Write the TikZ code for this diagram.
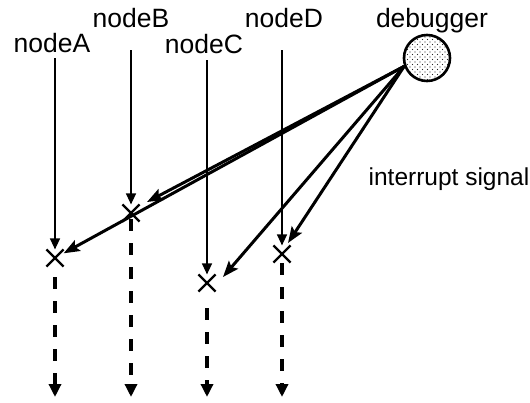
\documentclass[tikz,border=0pt]{standalone}
\usepackage{fontspec}
\setmainfont{Liberation Sans}
\usetikzlibrary{arrows.meta, shapes.misc, patterns}
\pgfdeclarepatternformonly{dbgdots}{\pgfpoint{-1pt}{-1pt}}{\pgfpoint{4pt}{4pt}}{\pgfpoint{5pt}{5pt}}{%
    \pgfpathcircle{\pgfpoint{0pt}{0pt}}{0.6pt}%
    \pgfpathcircle{\pgfpoint{2.5pt}{2.5pt}}{0.6pt}%
    \pgfusepath{fill}}

\begin{document}
\begin{tikzpicture}[x=1pt, y=-1pt,
        font=\fontsize{26.5}{30}\selectfont,
        lbl/.style={anchor=base, inner sep=0pt},
        crs/.style={cross out, draw, line width=2.2pt, minimum size=15pt, inner sep=0pt},
        tl/.style={-{Triangle[length=11pt, width=10pt]}, line width=1.4pt},
        sig/.style={-{Stealth[length=16pt, width=12pt, inset=3pt]}, line width=3pt},
        dl/.style={-{Triangle[length=13pt, width=12pt]}, line width=3.6pt, dash pattern=on 12pt off 12pt}
    ]
    \useasboundingbox (0,0) rectangle (530,402);

    % labels
    \node[lbl] (labA) at (52,52)  {nodeA};
    \node[lbl] (labB) at (131,27) {nodeB};
    \node[lbl] (labC) at (204,53) {nodeC};
    \node[lbl] (labD) at (284,27) {nodeD};
    \node[lbl] (labDbg) at (432,27) {debugger};
    \node[lbl, font=\fontsize{24.5}{30}\selectfont] (labSig) at (449,185) {interrupt signal};

    % debugger
    \node[circle, draw, line width=2.6pt, minimum size=46pt, inner sep=0pt,
        pattern=dbgdots, pattern color=black!85] (dbg) at (427,58) {};

    % breakpoints
    \node[crs] (xA) at (55,258)  {};
    \node[crs] (xB) at (131,213) {};
    \node[crs] (xC) at (207,283) {};
    \node[crs] (xD) at (282,254) {};

    \coordinate (tA) at (55,58);
    \coordinate (tB) at (131,50);
    \coordinate (tC) at (207,60);
    \coordinate (tD) at (282,50);

    \draw[tl] (tA) -- (xA.north);
    \draw[tl] (tB) -- (xB.north);
    \draw[tl] (tC) -- (xC.north);
    \draw[tl] (tD) -- (xD.north);

    % interrupt signal
    \coordinate (sB) at (147,202);
    \coordinate (sC) at (223,277);
    \coordinate (sD) at (288,243);
    \draw[sig] (dbg.200) -- (xA);
    \draw[sig] (dbg.200) -- (sB);
    \draw[sig] (dbg.200) -- (sC);
    \draw[sig] (dbg.200) -- (sD);

    % continuation
    \coordinate (dA) at (55,277);
    \coordinate (dB) at (131,219);
    \coordinate (dC) at (207,308);
    \coordinate (dD) at (282,263);
    \coordinate (bA) at (55,397);
    \coordinate (bB) at (131,397);
    \coordinate (bC) at (207,397);
    \coordinate (bD) at (282,397);
    \draw[dl] (dA) -- (bA);
    \draw[dl] (dB) -- (bB);
    \draw[dl] (dC) -- (bC);
    \draw[dl] (dD) -- (bD);
\end{tikzpicture}
\end{document}
